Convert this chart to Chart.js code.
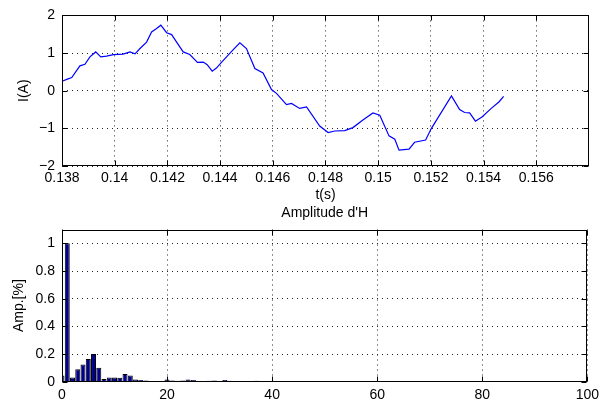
<!DOCTYPE html>
<html>
<head>
<meta charset="utf-8">
<script src="https://cdn.jsdelivr.net/npm/chart.js@4/dist/chart.umd.min.js"></script>
<style>
  html, body { margin: 0; padding: 0; background: #fff; }
  #wrap { position: relative; width: 604px; height: 405px; overflow: hidden; }
  canvas { position: absolute; left: 0; }
  #c1 { top: 0; }
  #c2 { top: 204px; }
</style>
</head>
<body>
<div id="wrap">
  <canvas id="c1" width="604" height="204"></canvas>
  <canvas id="c2" width="604" height="201"></canvas>
</div>
<script>
// ---- Data: current waveform ----
const time = [0.13800,0.13818,0.13837,0.13868,0.13887,0.13906,0.13928,0.13947,0.13969,0.13995,
  0.14032,0.14058,0.14077,0.14096,0.14121,0.14140,0.14159,0.14175,0.14197,0.14216,
  0.14235,0.14260,0.14285,0.14314,0.14336,0.14351,0.14370,0.14386,0.14406,0.14450,
  0.14475,0.14500,0.14532,0.14563,0.14595,0.14614,0.14652,0.14671,0.14702,0.14728,
  0.14778,0.14810,0.14835,0.14873,0.14904,0.14942,0.14980,0.15006,0.15041,0.15063,
  0.15079,0.15117,0.15138,0.15180,0.15202,0.15278,0.15309,0.15328,0.15347,0.15369,
  0.15395,0.15429,0.15458,0.15476];
const current = [0.25,0.30,0.35,0.66,0.70,0.90,1.03,0.90,0.92,0.96,
  0.97,1.03,0.98,1.12,1.29,1.56,1.65,1.74,1.54,1.49,
  1.29,1.03,0.96,0.75,0.76,0.69,0.52,0.60,0.76,1.09,
  1.27,1.12,0.59,0.47,0.03,-0.07,-0.37,-0.34,-0.47,-0.43,
  -0.94,-1.11,-1.07,-1.06,-0.98,-0.78,-0.59,-0.65,-1.20,-1.29,
  -1.58,-1.55,-1.37,-1.31,-1.00,-0.14,-0.50,-0.58,-0.59,-0.81,
  -0.69,-0.47,-0.30,-0.15];

// ---- Data: harmonic amplitudes ----
const harmonicOrder = [];
for (let i = 0; i <= 100; i++) harmonicOrder.push(i);
const amplitude = [0.045,1.0,0.03,0.09,0.125,0.164,0.20,0.10,0.02,0.03,
  0.03,0.028,0.055,0.045,0.015,0.012,0.008,0.005,0.004,0.005,
  0.015,0.008,0.007,0.008,0.016,0.012,0.005,0.004,0.006,0.009,
  0.005,0.013,0.007,0.004,0.003,0.004,0.003,0.006,0.003,0.002,
  0.003,0.002,0.002,0.003,0.002,0.002,0.002,0.003,0.002,0.002,
  0.002,0.002,0.002,0.002,0.002,0.002,0.002,0.002,0.002,0.002,
  0.002,0.002,0.002,0.002,0.002,0.002,0.002,0.002,0.002,0.002,
  0.002,0.002,0.002,0.002,0.002,0.002,0.002,0.002,0.002,0.002,
  0.002,0.002,0.002,0.002,0.002,0.002,0.002,0.002,0.002,0.002,
  0.002,0.002,0.002,0.002,0.002,0.002,0.002,0.002,0.002,0.002,
  0.002];

// ---- Tick values ----
const topXTicks = [0.138,0.140,0.142,0.144,0.146,0.148,0.150,0.152,0.154,0.156];
const topYTicks = [-2,-1,0,1,2];
const botXTicks = [0,20,40,60,80,100];
const botYTicks = [0,0.2,0.4,0.6,0.8,1];

const FONT = { family: "'Liberation Sans', Arial, Helvetica, sans-serif", size: 14 };
Chart.defaults.font = FONT;
Chart.defaults.color = '#000';

const fmt = v => (v < 0 ? '\u2212' + String(Math.abs(v)) : String(v));
const setTicks = arr => scale => { scale.ticks = arr.map(v => ({ value: v })); };

const frame = {
  id: 'frame',
  afterDraw(chart) {
    const { ctx, chartArea: a, scales } = chart;
    ctx.save();
    ctx.strokeStyle = '#000';
    ctx.lineWidth = 1;
    const L = Math.round(a.left) + 0.5, R = Math.round(a.right) - 0.5;
    const T = Math.round(a.top) + 0.5, B = Math.round(a.bottom) - 0.5;
    ctx.strokeRect(L, T, R - L, B - T);
    const len = 5;
    ctx.beginPath();
    scales.x.ticks.forEach(t => {
      const x = Math.round(scales.x.getPixelForValue(t.value)) + 0.5;
      ctx.moveTo(x, B); ctx.lineTo(x, B - len);
      ctx.moveTo(x, T); ctx.lineTo(x, T + len);
    });
    scales.y.ticks.forEach(t => {
      const y = Math.round(scales.y.getPixelForValue(t.value)) + 0.5;
      ctx.moveTo(L, y); ctx.lineTo(L + len, y);
      ctx.moveTo(R, y); ctx.lineTo(R - len, y);
    });
    ctx.stroke();
    const title = chart.options.plugins.frameTitle;
    if (title && title.text) {
      ctx.fillStyle = '#000';
      ctx.font = FONT.size + 'px ' + FONT.family;
      ctx.textAlign = 'center';
      ctx.textBaseline = 'middle';
      ctx.fillText(title.text, (a.left + a.right) / 2, title.y);
    }
    ctx.restore();
  }
};

const gridOpts = { color: '#222', lineWidth: 1, drawTicks: false };
const borderOpts = { display: false, dash: [1, 4] };

new Chart(document.getElementById('c1'), {
  type: 'scatter',
  data: {
    datasets: [{
      data: time.map((t, i) => ({ x: t, y: current[i] })),
      showLine: true,
      borderColor: '#0000ff',
      borderWidth: 1.2,
      pointRadius: 0,
      tension: 0,
      fill: false
    }]
  },
  options: {
    responsive: false,
    animation: false,
    layout: { padding: { left: 0, right: 15, top: 15, bottom: 0 } },
    plugins: { legend: { display: false }, tooltip: { enabled: false } },
    scales: {
      x: {
        type: 'linear', min: 0.138, max: 0.158,
        afterBuildTicks: setTicks(topXTicks),
        afterFit: s => { s.height = 38; },
        grid: gridOpts, border: borderOpts,
        ticks: { padding: 4, maxRotation: 0, autoSkip: false, callback: v => fmt(v) },
        title: { display: true, text: 't(s)', padding: { top: 0, bottom: 0 } }
      },
      y: {
        type: 'linear', min: -2, max: 2,
        afterBuildTicks: setTicks(topYTicks),
        afterFit: s => { s.width = 62; },
        grid: gridOpts, border: borderOpts,
        ticks: { padding: 7, callback: v => fmt(v) },
        title: { display: true, text: 'I(A)', padding: { top: 16, bottom: 0 } }
      }
    }
  },
  plugins: [frame]
});

new Chart(document.getElementById('c2'), {
  type: 'bar',
  data: {
    datasets: [{
      data: harmonicOrder.map((h, i) => ({ x: h, y: amplitude[i] })),
      backgroundColor: '#00008f',
      borderColor: '#000',
      borderWidth: 1,
      barPercentage: 1.0,
      categoryPercentage: 0.95
    }]
  },
  options: {
    responsive: false,
    animation: false,
    layout: { padding: { left: 0, right: 15, top: 25.5, bottom: 0 } },
    plugins: {
      legend: { display: false }, tooltip: { enabled: false },
      frameTitle: { text: "Amplitude d'H", y: 9 }
    },
    scales: {
      x: {
        type: 'linear', min: 0, max: 100, offset: false,
        afterBuildTicks: setTicks(botXTicks),
        afterFit: s => { s.height = 23.3; },
        grid: Object.assign({}, gridOpts, { offset: false }), border: borderOpts,
        ticks: { padding: 5, maxRotation: 0, autoSkip: false, callback: v => fmt(v) }
      },
      y: {
        type: 'linear', min: 0, max: 1.1,
        afterBuildTicks: setTicks(botYTicks),
        afterFit: s => { s.width = 62; },
        grid: gridOpts, border: borderOpts,
        ticks: { padding: 7, callback: v => fmt(v) },
        title: { display: true, text: 'Amp.[%]', padding: { top: 11, bottom: 0 } }
      }
    }
  },
  plugins: [frame]
});
</script>
</body>
</html>
